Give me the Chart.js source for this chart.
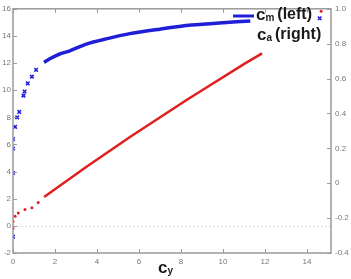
<!DOCTYPE html>
<html>
<head>
<meta charset="utf-8">
<script src="https://cdn.jsdelivr.net/npm/chart.js@4"></script>
<style>
	html, body { margin: 0; padding: 0; background: #fff; }
	#wrap { width: 351px; height: 279px; }
</style>
</head>
<body>
<div id="wrap"><canvas id="chart"></canvas></div>
<script>
// tick labels
const xTicks = [0, 2, 4, 6, 8, 10, 12, 14];
const leftTicks = [-2, 0, 2, 4, 6, 8, 10, 12, 14, 16];
const rightTicks = [-0.4, -0.2, 0, 0.2, 0.4, 0.6, 0.8, 1];

// c_m (left axis), sparse start points and dense curve
const cmSparseX = [0, 0, 0, 0, 0.1, 0.2, 0.3, 0.5, 0.55, 0.7, 0.9, 1.1, 14.6];
const cmSparseY = [-0.8, 3.9, 5.7, 6.4, 7.3, 8.0, 8.4, 9.6, 9.9, 10.5, 11.0, 11.5, 15.3];
const cmX = [1.48, 1.8, 2.2, 2.7, 3.5, 4.5, 5.5, 7.0, 8.5, 10, 11.3];
const cmY = [12.05, 12.35, 12.65, 12.9, 13.4, 13.8, 14.15, 14.5, 14.8, 14.98, 15.1];

// c_a (right axis)
const caSparseX = [0, 0, 0.1, 0.25, 0.57, 0.9, 1.2, 14.67];
const caSparseY = [-0.26, -0.22, -0.19, -0.17, -0.15, -0.14, -0.11, 0.986];
const caX = [1.48, 3.5, 5.57, 8.3, 11.05, 11.86];
const caY = [-0.079, 0.095, 0.265, 0.48, 0.687, 0.744];

const blue = '#1f1fd8';
const red = '#e02020';
const axisGray = '#9a9a9a';

const toPts = (xs, ys) => xs.map((x, i) => ({ x: x, y: ys[i] }));

// box, inward ticks, dotted zero line, legend text and x title
const decorations = {
	id: 'decorations',
	beforeDatasetsDraw(chart) {
		const { ctx, chartArea: a, scales } = chart;
		const yz = scales.y.getPixelForValue(0);
		ctx.save();
		ctx.strokeStyle = '#d8d8d8';
		ctx.lineWidth = 1;
		ctx.setLineDash([2, 2]);
		ctx.beginPath();
		ctx.moveTo(a.left, yz + 0.5);
		ctx.lineTo(a.right, yz + 0.5);
		ctx.stroke();
		ctx.restore();
	},
	afterDatasetsDraw(chart) {
		const { ctx, chartArea: a, scales } = chart;
		ctx.save();
		ctx.strokeStyle = axisGray;
		ctx.lineWidth = 1.5;
		ctx.strokeRect(a.left, a.top, a.right - a.left, a.bottom - a.top);
		ctx.lineWidth = 1;
		ctx.beginPath();
		xTicks.forEach(v => {
			const px = Math.round(scales.x.getPixelForValue(v)) + 0.5;
			ctx.moveTo(px, a.bottom); ctx.lineTo(px, a.bottom - 4);
			ctx.moveTo(px, a.top); ctx.lineTo(px, a.top + 4);
		});
		leftTicks.forEach(v => {
			const py = Math.round(scales.y.getPixelForValue(v)) + 0.5;
			ctx.moveTo(a.left, py); ctx.lineTo(a.left + 4, py);
		});
		rightTicks.forEach(v => {
			const py = Math.round(scales.y2.getPixelForValue(v)) + 0.5;
			ctx.moveTo(a.right, py); ctx.lineTo(a.right - 4, py);
		});
		ctx.stroke();

		// legend
		ctx.strokeStyle = blue;
		ctx.lineWidth = 3;
		ctx.beginPath();
		ctx.moveTo(233, 16); ctx.lineTo(254, 16);
		ctx.stroke();
		const sub = (x, y, main, s, rest) => {
			ctx.font = 'bold 17px "Liberation Sans", sans-serif';
			ctx.fillText(main, x, y);
			let w = ctx.measureText(main).width;
			ctx.font = 'bold 10px "Liberation Sans", sans-serif';
			ctx.fillText(s, x + w, y + 3);
			w += ctx.measureText(s).width + 3;
			ctx.font = 'bold 16px "Liberation Sans", sans-serif';
			ctx.fillText(rest, x + w, y);
		};
		ctx.fillStyle = '#1a1a1a';
		ctx.textBaseline = 'middle';
		ctx.textAlign = 'left';
		sub(256, 15, 'c', 'm', '(left)');
		sub(257, 35, 'c', 'a', '(right)');
		sub(158, 268, 'c', 'y', '');
		ctx.restore();
	}
};

new Chart(document.getElementById('chart'), {
	type: 'scatter',
	data: {
		datasets: [
			{
				label: 'cm sparse',
				data: toPts(cmSparseX, cmSparseY),
				yAxisID: 'y',
				pointStyle: 'crossRot',
				pointRadius: 2.5,
				borderColor: blue,
				borderWidth: 1.5,
				backgroundColor: blue
			},
			{
				label: 'cm',
				data: toPts(cmX, cmY),
				yAxisID: 'y',
				showLine: true,
				pointRadius: 0,
				borderColor: blue,
				borderWidth: 3.5,
				tension: 0.3
			},
			{
				label: 'ca sparse',
				data: toPts(caSparseX, caSparseY),
				yAxisID: 'y2',
				pointStyle: 'circle',
				pointRadius: 1.5,
				borderWidth: 0,
				backgroundColor: red
			},
			{
				label: 'ca',
				data: toPts(caX, caY),
				yAxisID: 'y2',
				showLine: true,
				pointRadius: 0,
				borderColor: red,
				borderWidth: 2.5,
				tension: 0
			}
		]
	},
	options: {
		responsive: true,
		maintainAspectRatio: false,
		animation: false,
		layout: { padding: { top: 4, left: 0, right: 0, bottom: 0 } },
		scales: {
			x: {
				type: 'linear',
				min: 0,
				max: 15.14,
				afterBuildTicks: s => { s.ticks = xTicks.map(v => ({ value: v })); },
				afterFit: s => { s.height = 26; },
				grid: { display: false, drawTicks: false },
				border: { display: false },
				ticks: { color: '#777', font: { size: 8 }, padding: 4, maxRotation: 0 }
			},
			y: {
				position: 'left',
				min: -2,
				max: 16,
				afterBuildTicks: s => { s.ticks = leftTicks.map(v => ({ value: v })); },
				afterFit: s => { s.width = 13; },
				grid: { display: false, drawTicks: false },
				border: { display: false },
				ticks: { color: '#777', font: { size: 8 }, padding: 2 }
			},
			y2: {
				position: 'right',
				min: -0.4,
				max: 1,
				afterBuildTicks: s => { s.ticks = rightTicks.map(v => ({ value: v })); },
				afterFit: s => { s.width = 20; },
				grid: { display: false, drawTicks: false },
				border: { display: false },
				ticks: { color: '#777', font: { size: 8 }, padding: 4 }
			}
		},
		plugins: {
			legend: { display: false },
			tooltip: { enabled: false }
		}
	},
	plugins: [decorations]
});
</script>
</body>
</html>
